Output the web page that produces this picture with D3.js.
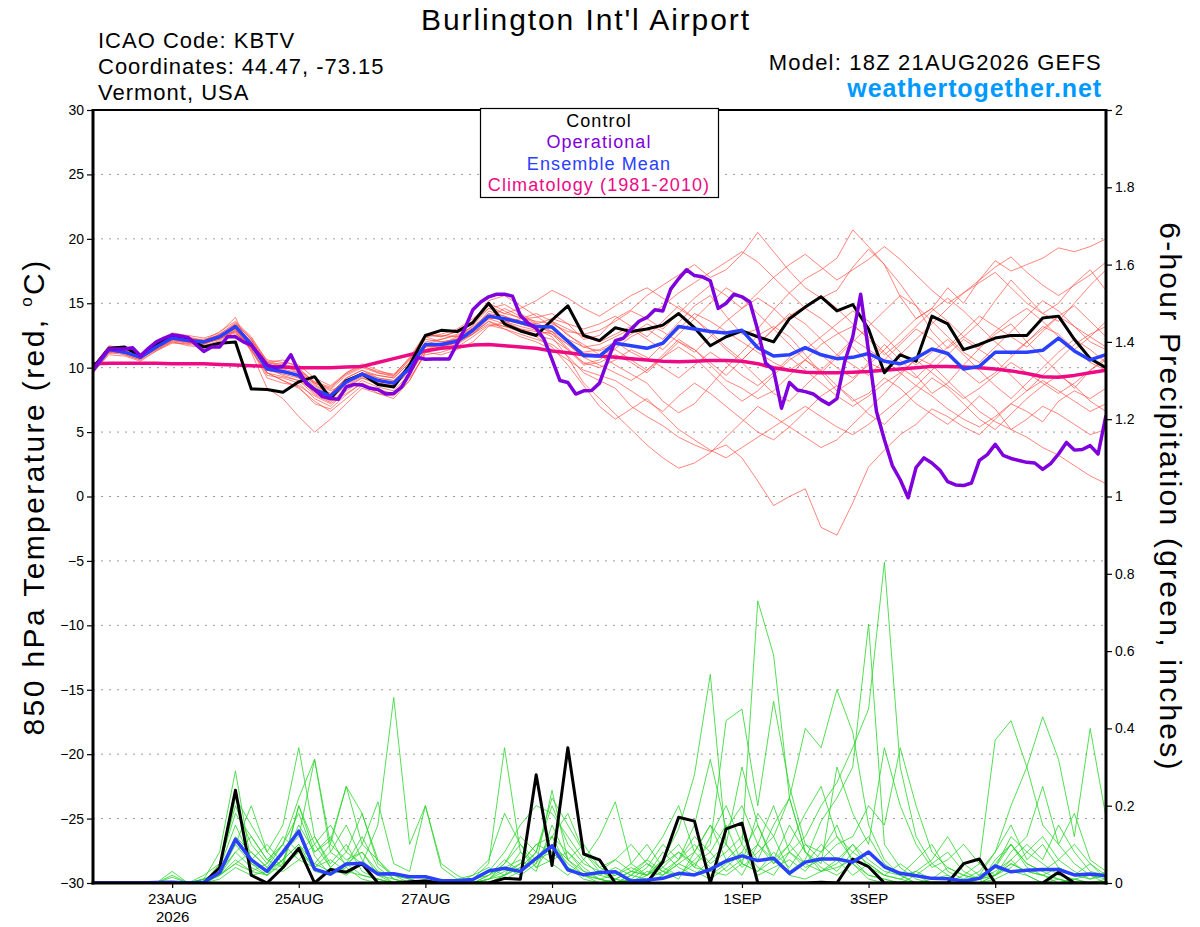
<!DOCTYPE html>
<html>
  <head>
    <meta charset="utf-8">
    <title>Burlington Int'l Airport</title>
    <style>
      body, html{
        margin: 0;
        background: #fff;
      }
      svg{
        display: block;
        font-family: "Liberation Sans", Arial, Helvetica, sans-serif;
      }
      .grid line{
        stroke: #9a9a9a;
        stroke-dasharray: 2,6;
      }
      .axis text{
        font-size: 14px;
        fill: #000;
      }
      .axis line{
        stroke: #000;
        stroke-width: 1.2;
      }
    </style>
  </head>
  <body>
    <svg id="chart" width="1200" height="927"></svg>
    <script src="https://cdnjs.cloudflare.com/ajax/libs/d3/7.8.5/d3.min.js" charset="utf-8"></script>
    <script>
      // run start 18Z 21AUG2026, 6-hourly ensemble, 3-hourly operational
      var runStart = Date.UTC(2026, 7, 21, 18)
      var dateTicks = ['2026-08-23', '2026-08-25', '2026-08-27', '2026-08-29', '2026-09-01', '2026-09-03', '2026-09-05']
      var dateLabels = ['23AUG', '25AUG', '27AUG', '29AUG', '1SEP', '3SEP', '5SEP']
      var tempTicks = [-30, -25, -20, -15, -10, -5, 0, 5, 10, 15, 20, 25, 30]
      var precipTicks = [0, 0.2, 0.4, 0.6, 0.8, 1, 1.2, 1.4, 1.6, 1.8, 2]
      var legendItems = ['Control', 'Operational', 'Ensemble Mean', 'Climatology (1981-2010)']

      var controlTemp = [10.0, 11.5, 11.6, 10.9, 11.8, 12.5, 12.3, 11.6, 11.9, 12.0,
        8.35, 8.3, 8.1, 8.9, 9.3, 7.6, 9.0, 9.5, 8.7, 8.5, 10.2,
        12.5, 12.9, 12.8, 13.5, 15.0, 13.4, 12.85, 12.5, 13.7, 14.8, 12.5, 12.1,
        13.1, 12.8, 13.0, 13.3, 14.2, 13.1, 11.7, 12.4, 12.85, 12.4, 12.0, 13.8, 14.7, 15.5,
        14.4, 14.9, 13.0, 9.6, 11.0, 10.5, 14.0, 13.4, 11.4, 11.8, 12.3, 12.5, 12.5, 13.85,
        14.0, 12.2, 10.7, 10.0]

      var meanTemp = [9.8, 11.4, 11.2, 10.8, 11.6, 12.3, 12.1, 12.0, 12.4, 13.2,
        11.8, 9.9, 9.7, 9.4, 8.3, 7.8, 8.9, 9.5, 9.0, 8.8, 9.95,
        11.8, 11.8, 12.05, 12.9, 14.0, 13.8, 13.5, 13.2, 13.15, 12.05, 10.95, 10.9,
        11.9, 11.7, 11.5, 11.9, 13.2, 13.0, 12.8, 12.7, 12.9, 11.55, 10.9, 11.0, 11.55, 11.0,
        10.7, 10.8, 11.1, 10.5, 10.3, 10.75, 11.45, 11.1, 9.9, 10.1, 11.2, 11.2, 11.2, 11.35,
        12.3, 11.3, 10.6, 11.0]

      var climoTemp = [10.3, 10.35, 10.35, 10.35, 10.35, 10.3, 10.3, 10.3, 10.25,
        10.2, 10.15, 10.1, 10.05, 10.0, 10.0, 10.0, 10.05,
        10.1, 10.4, 10.7, 11.0, 11.3, 11.5, 11.6, 11.75, 11.8, 11.7, 11.6, 11.5,
        11.3, 11.15, 11.0, 10.9, 10.8, 10.7, 10.6, 10.5, 10.45, 10.5, 10.55, 10.55,
        10.5, 10.3, 10.0, 9.8, 9.65, 9.6, 9.6, 9.65, 9.7, 9.8, 9.9, 10.0, 10.1, 10.1,
        10.05, 10.0, 9.9, 9.75, 9.55, 9.3, 9.25, 9.4, 9.6, 9.8]

      var operTemp = [9.8, 10.7, 11.45, 11.45, 11.45, 11.55, 10.9, 11.5, 12.0, 12.3,
        12.55, 12.45, 12.35, 11.8, 11.25, 11.6, 11.6, 12.4, 12.4, 12.0,
        11.75, 11.0, 10.2, 10.0, 10.1, 11.0, 9.7, 8.75, 8.3, 7.75,
        7.6, 7.55, 8.5, 8.7, 8.65, 8.4, 8.3, 7.95, 8.0, 8.5,
        9.55, 10.8, 10.65, 10.67, 10.67, 10.67, 11.85, 13.05, 14.5, 15.1,
        15.5, 15.7, 15.7, 15.55, 14.05, 13.45, 13.05, 12.2, 10.65, 9.0,
        8.85, 7.95, 8.2, 8.22, 8.8, 10.5, 12.1, 12.28, 12.98, 13.6,
        13.9, 14.5, 14.4, 16.1, 16.9, 17.6, 17.15, 17.05, 16.75, 14.6,
        15.0, 15.7, 15.5, 15.1, 12.9, 10.35, 9.8, 6.85, 8.85, 8.27,
        8.14, 7.96, 7.5, 7.15, 7.6, 10.5, 12.4, 15.7, 11.25, 6.6,
        4.4, 2.4, 1.3, -0.1, 2.25, 3.0, 2.6, 2.05, 1.15, 0.9,
        0.85, 1.05, 2.8, 3.25, 4.05, 3.2, 2.95, 2.8, 2.65, 2.6,
        2.1, 2.55, 3.3, 4.2, 3.6, 3.65, 3.95, 3.3, 6.3]

      var memberTemp = [
        [9.9, 11.6, 11.0, 10.6, 11.8, 12.6, 12.4, 12.1, 12.8, 13.6,
          12.4, 10.5, 10.2, 9.6, 8.8, 8.4, 9.6, 10.3, 9.8, 9.4, 10.8,
          12.6, 12.4, 12.8, 13.5, 15.0, 14.4, 13.8, 13.9, 14.2, 13.4, 12.2, 12.5,
          13.8, 14.5, 15.6, 16.4, 17.2, 18.0, 17.0, 17.6, 18.8, 20.5, 19.0, 17.5, 16.2, 15.4, 16.0, 17.8,
          19.2, 18.0, 15.5, 13.8, 14.6, 16.2, 15.0, 16.8, 18.3, 17.5, 18.0, 18.5, 19.3, 19.0, 19.4, 20.0],
        [9.7, 11.2, 11.4, 10.9, 11.5, 12.1, 12.0, 11.9, 12.2, 12.9,
          11.5, 9.4, 9.2, 8.8, 7.6, 7.0, 8.2, 9.0, 8.5, 8.2, 9.5,
          11.4, 11.6, 12.3, 13.3, 14.6, 14.9, 14.2, 13.5, 12.8, 11.5, 10.3, 10.6,
          11.5, 12.4, 13.0, 12.2, 13.5, 14.8, 15.6, 14.0, 12.6, 13.0, 14.5, 15.8, 16.9, 17.6, 18.5, 20.7,
          19.4, 18.0, 16.5, 14.8, 12.8, 11.5, 12.4, 13.5, 15.2, 16.8, 15.5, 14.2, 15.0, 16.5, 17.6, 16.0],
        [10.0, 11.3, 11.1, 10.7, 11.4, 12.0, 11.8, 11.7, 12.1, 12.8,
          11.3, 9.6, 9.0, 8.5, 7.2, 6.8, 7.9, 8.8, 8.3, 8.0, 9.2,
          11.0, 11.2, 11.6, 12.4, 13.3, 13.0, 12.6, 12.2, 11.8, 10.9, 9.6, 9.0,
          8.4, 7.0, 6.2, 5.5, 4.6, 4.0, 3.5, 4.0, 3.0, 1.2, -0.7, 0.0, 0.6, -2.4, -3.0, -0.5,
          2.3, 3.6, 4.8, 5.6, 6.8, 6.2, 5.4, 4.8, 6.0, 7.2, 6.6, 5.8, 7.4, 8.2, 7.6, 8.4],
        [9.8, 11.5, 11.3, 10.8, 11.7, 12.4, 12.2, 12.2, 12.5, 13.3,
          12.0, 10.2, 10.0, 9.8, 8.7, 8.0, 9.2, 9.8, 9.2, 9.0, 10.2,
          12.0, 12.2, 12.5, 13.2, 14.2, 13.6, 13.2, 12.9, 12.6, 11.4, 10.2, 10.4,
          11.0, 10.4, 9.6, 10.8, 12.0, 11.4, 10.2, 9.0, 8.4, 7.6, 8.2, 9.4, 10.6, 9.8, 8.6, 7.4,
          8.0, 9.2, 8.4, 7.2, 6.4, 5.6, 6.6, 7.8, 6.8, 5.2, 4.6, 3.8, 3.2, 2.4, 1.6, 1.0],
        [10.1, 11.7, 11.5, 11.1, 11.9, 12.7, 12.5, 12.3, 12.7, 13.9,
          11.2, 8.4, 7.6, 6.2, 5.0, 6.0, 7.2, 8.4, 8.0, 7.8, 9.0,
          11.2, 11.0, 11.4, 12.0, 13.2, 13.5, 13.8, 14.2, 13.6, 12.5, 11.8, 11.0,
          10.2, 9.5, 8.8, 7.4, 6.5, 7.2, 8.6, 10.0, 11.2, 12.5, 13.2, 12.4, 11.0, 9.6, 8.2, 9.0,
          10.4, 11.8, 10.6, 9.4, 8.0, 8.8, 10.2, 11.5, 12.6, 13.4, 12.0, 10.8, 9.6, 8.4, 9.8, 10.6],
        [9.6, 11.0, 10.9, 10.5, 11.3, 12.0, 11.7, 11.6, 12.0, 12.6,
          11.9, 10.4, 10.6, 10.0, 8.8, 8.2, 8.8, 9.6, 9.4, 9.2, 10.4,
          12.2, 12.0, 12.2, 12.8, 13.8, 13.4, 13.0, 12.8, 13.6, 13.0, 12.4, 12.0,
          12.6, 13.2, 14.0, 14.8, 15.8, 16.6, 17.4, 18.2, 19.0, 18.2, 17.0, 15.8, 14.6, 13.8, 12.8, 11.6,
          10.4, 9.8, 11.0, 12.2, 13.4, 14.6, 15.8, 16.6, 17.4, 16.2, 15.0, 14.2, 13.6, 15.0, 16.4, 17.6],
        [9.9, 11.4, 11.2, 10.9, 11.6, 12.2, 12.0, 11.8, 12.3, 13.0,
          11.6, 9.8, 9.6, 9.4, 8.4, 7.6, 8.6, 9.2, 8.8, 8.6, 9.8,
          11.6, 11.7, 12.0, 12.9, 14.4, 14.0, 13.4, 13.0, 12.4, 10.8, 8.8, 7.6,
          6.4, 5.2, 4.0, 3.0, 2.2, 2.6, 3.4, 4.6, 5.8, 7.0, 6.2, 5.4, 4.6, 3.8, 4.4, 5.6,
          6.8, 8.0, 9.4, 10.8, 10.2, 9.0, 7.8, 6.6, 5.8, 5.2, 6.0, 7.0, 6.4, 5.6, 4.8, 5.2],
        [9.8, 11.3, 11.4, 11.0, 11.5, 12.2, 12.2, 12.1, 12.6, 13.4,
          12.2, 10.0, 9.8, 9.2, 8.0, 7.4, 8.8, 9.6, 9.2, 9.0, 10.0,
          11.8, 12.2, 12.6, 13.6, 15.2, 15.6, 14.8, 14.0, 13.2, 12.0, 11.2, 11.4,
          12.0, 11.2, 10.6, 11.8, 13.0, 14.2, 13.6, 12.8, 12.0, 11.2, 10.4, 9.8, 10.6, 11.8, 12.6, 13.2,
          12.4, 11.2, 10.0, 9.2, 10.4, 11.6, 12.8, 14.0, 13.2, 12.4, 11.6, 12.8, 14.0, 14.8, 13.6, 12.4],
        [10.0, 11.6, 11.3, 10.8, 11.6, 12.3, 12.3, 12.0, 12.4, 13.0,
          11.4, 9.2, 8.8, 8.6, 7.8, 7.2, 8.0, 8.8, 8.0, 7.6, 9.0,
          11.2, 11.6, 12.0, 12.6, 13.6, 13.0, 12.4, 12.0, 11.4, 10.6, 9.8, 9.4,
          9.0, 8.2, 7.4, 6.6, 7.8, 8.8, 8.0, 7.0, 6.0, 5.0, 4.4, 5.4, 6.6, 7.8, 8.6, 7.6,
          6.4, 5.6, 6.8, 8.0, 9.2, 8.4, 7.2, 6.0, 5.2, 6.4, 7.6, 8.6, 9.4, 8.6, 7.4, 6.6],
        [9.7, 11.2, 11.0, 10.6, 11.3, 11.9, 11.9, 11.8, 12.3, 12.7,
          11.6, 10.0, 9.4, 9.0, 8.2, 7.8, 9.0, 9.4, 8.8, 8.6, 9.6,
          11.4, 11.5, 11.8, 12.6, 13.4, 13.2, 13.0, 12.6, 12.8, 12.2, 11.6, 11.8,
          12.4, 13.0, 12.2, 11.4, 12.6, 13.8, 15.0, 16.2, 15.4, 14.2, 13.0, 11.8, 10.6, 9.6, 10.8, 12.0,
          13.2, 14.4, 15.6, 14.8, 13.6, 12.4, 11.2, 10.4, 11.6, 12.8, 14.0, 15.2, 14.4, 13.2, 12.0, 11.4],
        [9.9, 11.5, 11.5, 11.0, 11.8, 12.5, 12.3, 12.0, 12.5, 13.1,
          12.1, 10.6, 10.4, 10.2, 9.2, 8.6, 9.6, 10.2, 9.6, 9.4, 10.6,
          12.4, 12.6, 13.0, 13.8, 14.8, 14.2, 14.6, 15.2, 16.0, 15.4, 14.6, 14.0,
          14.8, 15.6, 16.2, 15.4, 14.6, 13.8, 12.6, 11.4, 10.4, 9.2, 8.0, 7.4, 8.6, 9.8, 11.0, 12.2,
          11.4, 10.6, 9.6, 8.6, 9.8, 11.0, 12.2, 11.4, 10.6, 9.4, 8.2, 9.4, 10.6, 11.8, 12.6, 13.2],
        [9.8, 11.3, 11.1, 10.7, 11.5, 12.3, 12.0, 11.9, 12.2, 12.9,
          11.8, 10.2, 9.9, 9.6, 8.6, 8.0, 9.2, 9.8, 9.4, 9.2, 10.4,
          12.4, 12.0, 12.2, 13.0, 13.8, 14.6, 14.0, 13.4, 12.6, 11.8, 10.8, 10.2,
          9.6, 9.0, 9.8, 11.0, 12.2, 11.4, 10.4, 9.4, 10.6, 11.8, 13.0, 14.2, 13.4, 12.2, 11.0, 10.2,
          9.4, 10.6, 11.8, 13.0, 12.2, 11.0, 9.8, 8.8, 9.6, 10.8, 12.0, 13.2, 12.6, 11.4, 10.4, 9.8],
        [10.0, 11.6, 11.4, 11.0, 11.7, 12.5, 12.3, 12.1, 12.5, 13.2,
          11.8, 9.6, 9.0, 8.4, 7.4, 6.6, 7.6, 8.6, 8.2, 8.0, 9.4,
          11.4, 11.8, 12.4, 13.0, 14.0, 13.6, 13.0, 12.4, 11.6, 10.2, 8.6, 7.0,
          6.0, 6.8, 7.6, 6.4, 5.2, 4.4, 3.6, 3.0, 3.8, 4.6, 5.4, 6.2, 7.0, 6.2, 5.4, 4.8,
          5.6, 6.6, 7.6, 8.6, 7.8, 6.8, 6.0, 5.4, 6.2, 7.2, 8.2, 9.0, 8.2, 7.4, 6.6, 7.2],
        [9.6, 11.1, 11.2, 10.8, 11.4, 12.1, 11.9, 12.0, 12.3, 13.1,
          11.9, 10.1, 9.7, 9.3, 8.5, 7.9, 8.7, 9.3, 9.0, 8.7, 10.0,
          11.8, 11.9, 12.1, 12.8, 13.9, 13.7, 13.4, 13.1, 13.5, 12.6, 11.6, 11.3,
          11.8, 12.6, 13.4, 12.8, 12.0, 11.2, 12.4, 13.6, 14.6, 15.4, 14.6, 13.4, 12.2, 11.0, 10.0, 9.2,
          10.2, 11.4, 12.6, 13.8, 14.6, 13.6, 12.4, 11.6, 12.8, 13.8, 14.6, 13.6, 12.4, 11.4, 12.4, 13.6],
        [9.8, 11.4, 11.2, 10.9, 11.6, 12.3, 12.1, 11.9, 12.4, 13.3,
          12.0, 9.8, 9.5, 9.2, 8.1, 7.6, 8.9, 9.4, 9.0, 8.8, 9.8,
          11.6, 11.8, 12.0, 12.6, 13.8, 13.9, 13.6, 13.2, 12.8, 11.8, 10.8, 11.0,
          11.4, 10.6, 9.8, 10.8, 11.6, 10.8, 9.6, 8.4, 7.4, 8.2, 9.4, 10.6, 11.4, 12.4, 13.4, 14.4,
          13.6, 12.4, 11.2, 10.2, 11.2, 12.2, 11.0, 9.8, 8.6, 7.6, 8.8, 10.0, 11.2, 12.2, 11.4, 10.4],
        [9.9, 11.5, 11.3, 10.8, 11.7, 12.4, 12.1, 12.0, 12.6, 13.5,
          12.3, 10.4, 10.1, 9.8, 8.9, 8.3, 9.4, 10.0, 9.6, 9.3, 10.6,
          12.5, 12.4, 12.8, 13.6, 14.6, 14.2, 13.9, 13.6, 13.4, 12.8, 12.6, 12.9,
          13.6, 14.4, 13.8, 13.0, 14.2, 15.4, 16.4, 15.6, 14.6, 15.8, 17.0, 18.0, 18.8, 17.8, 16.8, 17.6,
          18.4, 19.4, 18.4, 17.2, 16.0, 15.0, 15.8, 16.8, 17.8, 18.6, 17.4, 16.4, 15.6, 16.4, 17.2, 18.2],
        [9.7, 11.2, 11.3, 10.7, 11.5, 12.2, 12.0, 12.1, 12.4, 12.8,
          11.4, 9.6, 9.3, 9.0, 7.9, 7.3, 8.4, 9.2, 8.7, 8.5, 9.9,
          11.7, 11.6, 11.9, 12.7, 13.6, 13.2, 12.8, 12.5, 12.2, 11.4, 10.4, 10.0,
          10.6, 11.4, 10.8, 10.0, 9.2, 10.2, 11.2, 10.4, 9.4, 8.6, 9.6, 10.8, 9.8, 8.8, 7.8, 7.0,
          7.8, 8.8, 9.6, 10.6, 9.6, 8.6, 7.6, 8.4, 9.4, 10.4, 9.6, 8.8, 8.0, 8.8, 9.8, 10.8],
        [10.0, 11.6, 11.2, 10.8, 11.6, 12.4, 12.3, 11.9, 12.4, 13.4,
          12.2, 10.3, 10.3, 9.9, 8.9, 8.5, 9.5, 10.1, 9.7, 9.5, 10.7,
          12.5, 12.5, 12.4, 13.1, 14.2, 14.0, 13.6, 13.4, 13.8, 13.4, 13.0, 13.4,
          14.0, 13.2, 12.4, 13.6, 14.8, 13.8, 12.8, 11.6, 10.6, 11.8, 13.0, 14.0, 14.8, 15.6, 14.6, 13.4,
          12.2, 11.0, 12.0, 13.2, 14.4, 15.4, 14.4, 13.2, 12.0, 11.0, 12.0, 13.0, 14.0, 13.2, 12.4, 11.6]
      ]

      var controlPrecip = [0, 0, 0, 0, 0, 0, 0, 0, 0.04, 0.24,
        0.02, 0, 0.04, 0.09, 0, 0.035, 0.028, 0.05, 0, 0,
        0.003, 0.005, 0, 0, 0, 0, 0.012, 0.01, 0.28, 0.045,
        0.35, 0.075, 0.06, 0, 0, 0, 0.055, 0.17, 0.16, 0,
        0.14, 0.155, 0, 0, 0, 0, 0.002, 0, 0.062, 0.042,
        0, 0, 0, 0, 0, 0.05, 0.062, 0, 0, 0,
        0, 0.028, 0, 0, 0]

      var meanPrecip = [0, 0, 0, 0, 0.001, 0.002, 0, 0.002, 0.027, 0.113,
        0.06, 0.03, 0.08, 0.134, 0.036, 0.023, 0.049, 0.051, 0.023, 0.024,
        0.016, 0.016, 0.006, 0.006, 0.009, 0.031, 0.038, 0.03, 0.064, 0.096,
        0.034, 0.021, 0.027, 0.029, 0.005, 0.008, 0.012, 0.025, 0.021, 0.035,
        0.057, 0.07, 0.058, 0.064, 0.025, 0.054, 0.062, 0.062, 0.054, 0.08,
        0.042, 0.025, 0.019, 0.012, 0.011, 0.005, 0.012, 0.044, 0.029, 0.033,
        0.035, 0.035, 0.021, 0.023, 0.019]

      var memberPrecip = [
        [0, 0, 0, 0, 0, 0, 0, 0.01, 0.08, 0.29, 0.05, 0.02, 0.06, 0.1, 0.03, 0.02, 0.04, 0.01, 0, 0,
          0, 0, 0, 0, 0, 0.01, 0.03, 0.05, 0.1, 0.12, 0.04, 0.02, 0.01, 0, 0.02, 0.05, 0.03, 0.01, 0.08, 0.15,
          0.06, 0.1, 0.04, 0.02, 0.08, 0.12, 0.2, 0.26, 0.35, 0.45, 0.83, 0.3, 0.12, 0.05, 0.02, 0, 0, 0.01, 0.03, 0.02,
          0, 0.01, 0, 0, 0],
        [0, 0, 0, 0, 0, 0, 0, 0, 0.03, 0.12, 0.08, 0.04, 0.1, 0.18, 0.07, 0.02, 0.05, 0.08, 0.02, 0,
          0, 0, 0, 0, 0.01, 0.02, 0.04, 0.06, 0.03, 0.15, 0.06, 0.02, 0, 0.01, 0.03, 0.02, 0.06, 0.1, 0.04, 0.12,
          0.2, 0.1, 0.73, 0.59, 0.22, 0.08, 0.04, 0.02, 0.05, 0.01, 0, 0, 0, 0, 0, 0.02, 0.01, 0.05, 0.1, 0.04,
          0.02, 0.01, 0, 0, 0],
        [0, 0, 0, 0, 0, 0, 0, 0.02, 0.05, 0.18, 0.12, 0.06, 0.04, 0.08, 0.12, 0.05, 0.1, 0.03, 0.01, 0,
          0, 0.01, 0, 0, 0, 0, 0.02, 0.04, 0.08, 0.2, 0.1, 0.05, 0.03, 0.01, 0, 0.02, 0.06, 0.14, 0.28, 0.54,
          0.1, 0.05, 0.18, 0.12, 0.03, 0.06, 0.16, 0.22, 0.3, 0.67, 0.1, 0.04, 0.01, 0, 0, 0, 0, 0.02, 0.06, 0.02,
          0, 0, 0.01, 0.02, 0],
        [0, 0, 0, 0, 0, 0, 0, 0, 0.02, 0.1, 0.2, 0.08, 0.15, 0.35, 0.12, 0.04, 0.08, 0.05, 0.15, 0.48,
          0.1, 0.2, 0.05, 0.02, 0, 0, 0.01, 0.03, 0.06, 0.08, 0.04, 0.02, 0.01, 0, 0.01, 0, 0.02, 0.05, 0.03, 0.01,
          0.04, 0.08, 0.15, 0.06, 0.02, 0.01, 0.03, 0.06, 0.1, 0.04, 0.02, 0.05, 0.02, 0, 0, 0, 0.01, 0.04, 0.12, 0.08,
          0.05, 0.02, 0.01, 0, 0.01],
        [0, 0, 0, 0, 0, 0.03, 0, 0, 0.04, 0.15, 0.06, 0.1, 0.05, 0.2, 0.08, 0.12, 0.04, 0.1, 0.06, 0.01,
          0, 0, 0, 0.01, 0.02, 0.04, 0.02, 0.08, 0.05, 0.12, 0.18, 0.08, 0.04, 0.02, 0.05, 0.1, 0.04, 0.02, 0.06, 0.1,
          0.42, 0.45, 0.2, 0.47, 0.25, 0.1, 0.08, 0.12, 0.06, 0.02, 0.01, 0, 0, 0, 0, 0, 0, 0.06, 0.1, 0.05,
          0.03, 0.01, 0, 0, 0],
        [0, 0, 0, 0, 0, 0, 0, 0.01, 0.03, 0.08, 0.04, 0.02, 0.08, 0.12, 0.32, 0.1, 0.25, 0.18, 0.05, 0.02,
          0.01, 0, 0, 0, 0, 0.02, 0.05, 0.1, 0.04, 0.06, 0.08, 0.03, 0.02, 0.04, 0.02, 0.01, 0.03, 0.06, 0.1, 0.05,
          0.08, 0.12, 0.06, 0.15, 0.22, 0.4, 0.35, 0.5, 0.39, 0.15, 0.06, 0.02, 0, 0, 0, 0, 0.01, 0.02, 0.05, 0.03,
          0.02, 0, 0.01, 0, 0],
        [0, 0, 0, 0, 0, 0, 0, 0, 0.02, 0.06, 0.03, 0.05, 0.1, 0.06, 0.04, 0.08, 0.15, 0.06, 0.02, 0.01,
          0, 0, 0, 0, 0.01, 0.05, 0.35, 0.08, 0.04, 0.1, 0.05, 0.02, 0.03, 0.01, 0, 0.03, 0.02, 0.05, 0.08, 0.04,
          0.06, 0.02, 0.1, 0.05, 0.08, 0.04, 0.06, 0.1, 0.12, 0.2, 0.15, 0.35, 0.2, 0.08, 0.04, 0.02, 0.05, 0.37, 0.42, 0.3,
          0.15, 0.1, 0.05, 0.02, 0.01],
        [0, 0, 0, 0, 0, 0, 0, 0, 0.01, 0.04, 0.02, 0.03, 0.06, 0.1, 0.05, 0.03, 0.05, 0.02, 0.01, 0,
          0, 0, 0, 0, 0, 0, 0.02, 0.05, 0.1, 0.08, 0.04, 0.01, 0, 0, 0.02, 0.06, 0.03, 0.02, 0.05, 0.08,
          0.15, 0.05, 0.03, 0.08, 0.04, 0.1, 0.06, 0.03, 0.08, 0.12, 0.05, 0.02, 0, 0.01, 0.02, 0, 0.02, 0.08, 0.2, 0.3,
          0.43, 0.32, 0.12, 0.4, 0.17],
        [0, 0, 0, 0, 0, 0.015, 0, 0.01, 0.02, 0.05, 0.08, 0.04, 0.03, 0.06, 0.1, 0.04, 0.02, 0.05, 0.03, 0,
          0, 0, 0, 0, 0, 0.02, 0.06, 0.03, 0.08, 0.05, 0.02, 0.06, 0.12, 0.21, 0.05, 0.02, 0.08, 0.04, 0.02, 0.06,
          0.1, 0.04, 0.08, 0.12, 0.22, 0.08, 0.03, 0.05, 0.1, 0.06, 0.03, 0.02, 0.06, 0.1, 0.03, 0.01, 0, 0.02, 0.04, 0.08,
          0.12, 0.06, 0.03, 0.01, 0.02],
        [0, 0, 0, 0, 0, 0, 0, 0, 0.04, 0.1, 0.05, 0.03, 0.06, 0.15, 0.08, 0.11, 0.25, 0.1, 0.21, 0.05,
          0.03, 0.2, 0.04, 0.01, 0, 0.01, 0.04, 0.02, 0.05, 0.24, 0.06, 0.1, 0.04, 0.06, 0.03, 0.02, 0.04, 0.08, 0.05, 0.02,
          0.05, 0.08, 0.02, 0.04, 0.06, 0.03, 0.08, 0.15, 0.05, 0.02, 0.01, 0, 0.02, 0.05, 0.08, 0.03, 0.01, 0.03, 0.06, 0.1,
          0.06, 0.15, 0.08, 0.03, 0.02],
        [0, 0, 0, 0, 0, 0, 0, 0, 0.02, 0.08, 0.12, 0.06, 0.1, 0.22, 0.32, 0.08, 0.05, 0.12, 0.04, 0.01,
          0, 0, 0.01, 0, 0.02, 0.06, 0.18, 0.1, 0.06, 0.12, 0.08, 0.04, 0.01, 0, 0.01, 0.04, 0.1, 0.06, 0.12, 0.08,
          0.03, 0.06, 0.1, 0.2, 0.08, 0.05, 0.1, 0.06, 0.02, 0.05, 0.02, 0.01, 0, 0, 0, 0.01, 0.03, 0.08, 0.15, 0.06,
          0.1, 0.04, 0.02, 0.05, 0.01],
        [0, 0, 0, 0, 0, 0.02, 0, 0.01, 0.02, 0.05, 0.03, 0.02, 0.05, 0.08, 0.04, 0.06, 0.03, 0.02, 0.01, 0,
          0, 0, 0, 0, 0, 0.01, 0.02, 0.04, 0.06, 0.1, 0.06, 0.03, 0.01, 0.02, 0.04, 0.02, 0.05, 0.08, 0.04, 0.03,
          0.02, 0.05, 0.03, 0.06, 0.1, 0.05, 0.03, 0.04, 0.06, 0.08, 0.04, 0.02, 0.03, 0.01, 0.04, 0.02, 0.01, 0.02, 0.05, 0.03,
          0.02, 0.04, 0.02, 0.01, 0.03],
        [0, 0, 0, 0, 0, 0, 0, 0, 0.05, 0.2, 0.1, 0.05, 0.12, 0.08, 0.05, 0.1, 0.06, 0.08, 0.03, 0.02,
          0.01, 0, 0, 0, 0.01, 0.03, 0.08, 0.15, 0.2, 0.18, 0.12, 0.06, 0.02, 0.01, 0.03, 0.06, 0.12, 0.2, 0.08, 0.15,
          0.1, 0.3, 0.15, 0.05, 0.1, 0.18, 0.25, 0.12, 0.08, 0.05, 0.02, 0.01, 0.03, 0.06, 0.12, 0.05, 0.02, 0.04, 0.1, 0.05,
          0.03, 0.06, 0.1, 0.05, 0.02],
        [0, 0, 0, 0, 0, 0, 0, 0, 0.03, 0.22, 0.15, 0.08, 0.04, 0.2, 0.1, 0.15, 0.08, 0.18, 0.06, 0.02,
          0, 0, 0, 0, 0, 0.01, 0.05, 0.12, 0.08, 0.22, 0.15, 0.08, 0.03, 0.06, 0.1, 0.05, 0.02, 0.06, 0.15, 0.32,
          0.14, 0.2, 0.1, 0.06, 0.15, 0.08, 0.05, 0.3, 0.18, 0.1, 0.35, 0.2, 0.1, 0.04, 0.06, 0.1, 0.05, 0.02, 0.08, 0.12,
          0.25, 0.1, 0.18, 0.06, 0.03]
      ]

      var W = 1200, H = 927
      var pLeft = 93, pRight = 1106, pTop = 110, pBottom = 883
      var svg = d3.select('#chart')
      svg.append('rect').attr('width', W).attr('height', H).attr('fill', '#fff')

      var x = d3.scaleUtc().domain([new Date(runStart), new Date(runStart + 16 * 864e5)]).range([pLeft, pRight])
      var yT = d3.scaleLinear().domain([-30, 30]).range([pBottom, pTop])
      var yP = d3.scaleLinear().domain([0, 2]).range([pBottom, pTop])

      var steps = d3.range(controlTemp.length).map(function(i){ return new Date(runStart + i * 6 * 36e5) })
      var operSteps = d3.range(operTemp.length).map(function(i){ return new Date(runStart + i * 3 * 36e5) })

      // dotted grid on the temperature ticks
      svg.append('g').attr('class', 'grid')
        .selectAll('line').data(tempTicks.filter(function(t){ return t > -30 && t < 30 }))
        .enter().append('line')
        .attr('x1', pLeft).attr('x2', pRight)
        .attr('y1', function(d){ return yT(d) }).attr('y2', function(d){ return yT(d) })

      svg.append('clipPath').attr('id', 'plotclip').append('rect')
        .attr('x', pLeft).attr('y', pTop).attr('width', pRight - pLeft).attr('height', pBottom - pTop)
      var plot = svg.append('g').attr('clip-path', 'url(#plotclip)')

      var tLine = d3.line().x(function(d, i){ return x(steps[i]) }).y(function(d){ return yT(d) })
      var pLine = d3.line().x(function(d, i){ return x(steps[i]) }).y(function(d){ return yP(d) })
      var oLine = d3.line().x(function(d, i){ return x(operSteps[i]) }).y(function(d){ return yT(d) })

      plot.append('g').selectAll('path').data(memberTemp).enter().append('path')
        .attr('d', tLine).attr('fill', 'none').attr('stroke', '#ff4a40').attr('stroke-width', 0.8).attr('stroke-opacity', 0.85)
      plot.append('g').selectAll('path').data(memberPrecip).enter().append('path')
        .attr('d', pLine).attr('fill', 'none').attr('stroke', '#2ad62a').attr('stroke-width', 0.8)

      function thick(d, gen, color, w){
        plot.append('path').datum(d).attr('d', gen).attr('fill', 'none')
          .attr('stroke', color).attr('stroke-width', w).attr('stroke-linejoin', 'round')
      }
      thick(climoTemp, tLine, '#ee0a84', 3.5)
      thick(controlPrecip, pLine, '#000', 3)
      thick(meanPrecip, pLine, '#2a40ff', 3.5)
      thick(controlTemp, tLine, '#000', 3)
      thick(meanTemp, tLine, '#2a40ff', 3.5)
      thick(operTemp, oLine, '#7f00dc', 3.5)

      // axes
      var axL = svg.append('g').attr('class', 'axis').attr('transform', 'translate(' + pLeft + ',0)')
        .call(d3.axisLeft(yT).tickValues(tempTicks).tickSize(6).tickPadding(3))
      var axR = svg.append('g').attr('class', 'axis').attr('transform', 'translate(' + pRight + ',0)')
        .call(d3.axisRight(yP).tickValues(precipTicks).tickSize(6).tickPadding(3).tickFormat(d3.format('~g')))
      var axB = svg.append('g').attr('class', 'axis').attr('transform', 'translate(0,' + pBottom + ')')
        .call(d3.axisBottom(x).tickValues(dateTicks.map(function(s){ return new Date(s + 'T00:00:00Z') }))
          .tickSize(5).tickPadding(5).tickFormat(function(d, i){ return dateLabels[i] }))
      axL.select('.domain').remove()
      axR.select('.domain').remove()
      axB.select('.domain').remove()
      axB.selectAll('.tick text').style('font-size', '15px')
      axB.select('.tick text').append('tspan').attr('x', 0).attr('dy', '1.2em').text('2026')

      // frame
      var frame = svg.append('g').attr('stroke', '#000').attr('fill', 'none')
      frame.append('line').attr('x1', pLeft).attr('x2', pRight).attr('y1', pTop).attr('y2', pTop).attr('stroke-width', 2)
      frame.append('line').attr('x1', pLeft - 1.5).attr('x2', pRight + 1.5).attr('y1', pBottom).attr('y2', pBottom).attr('stroke-width', 3)
      frame.append('line').attr('x1', pLeft).attr('x2', pLeft).attr('y1', pTop - 1).attr('y2', pBottom + 1.5).attr('stroke-width', 3)
      frame.append('line').attr('x1', pRight).attr('x2', pRight).attr('y1', pTop - 1).attr('y2', pBottom + 1.5).attr('stroke-width', 3)

      // legend
      var legendColors = ['#000', '#7f00dc', '#2a40ff', '#ee0a84']
      var lg = svg.append('g')
      lg.append('rect').attr('x', 480.5).attr('y', 108.5).attr('width', 238).attr('height', 89)
        .attr('fill', '#fff').attr('stroke', '#000').attr('stroke-width', 1.2)
      lg.selectAll('text').data(legendItems).enter().append('text')
        .attr('x', 599).attr('y', function(d, i){ return 127 + i * 21.3 })
        .attr('text-anchor', 'middle').attr('font-size', 18).attr('letter-spacing', 1.1)
        .attr('fill', function(d, i){ return legendColors[i] })
        .text(function(d){ return d })

      // header text
      svg.append('text').attr('x', 586).attr('y', 30).attr('text-anchor', 'middle').attr('font-size', 30)
        .attr('letter-spacing', 1.9).text("Burlington Int'l Airport")
      var info = ['ICAO Code: KBTV', 'Coordinates: 44.47, -73.15', 'Vermont, USA']
      svg.append('g').selectAll('text').data(info).enter().append('text')
        .attr('x', 98).attr('y', function(d, i){ return 48 + i * 26 }).attr('font-size', 22)
        .attr('letter-spacing', 1).text(function(d){ return d })
      svg.append('text').attr('x', 1102).attr('y', 70).attr('text-anchor', 'end').attr('font-size', 22)
        .attr('letter-spacing', 1.2).text('Model: 18Z 21AUG2026 GEFS')
      svg.append('text').attr('x', 1102).attr('y', 97).attr('text-anchor', 'end').attr('font-size', 25)
        .attr('letter-spacing', 0.9).attr('font-weight', 'bold').attr('fill', '#0099ff').text('weathertogether.net')

      // axis titles
      var lt = svg.append('text').attr('transform', 'translate(44,497) rotate(-90)')
        .attr('text-anchor', 'middle').attr('font-size', 30).attr('letter-spacing', 2.4).text('850 hPa Temperature (red, ')
      lt.append('tspan').attr('font-size', 17).attr('dy', -12).text('o')
      lt.append('tspan').attr('dy', 12).text('C)')
      svg.append('text').attr('transform', 'translate(1160,497) rotate(90)')
        .attr('text-anchor', 'middle').attr('font-size', 30).attr('letter-spacing', 2.25).text('6-hour Precipitation (green, inches)')
    </script>
  </body>
</html>
